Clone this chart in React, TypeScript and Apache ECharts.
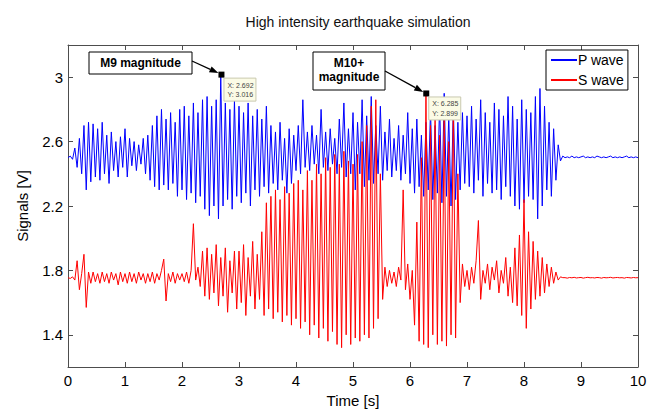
import React, { useEffect, useRef } from "react";
import * as echarts from "echarts";

// Sampling step of the recorded signals (seconds)
const SAMPLE_STEP = 0.04;

// Axis ranges / ticks
const timeRange = [0, 10];
const signalRange = [1.2, 3.2];
const signalTicks = [1.4, 1.8, 2.2, 2.6, 3.0];

// P wave samples (V), one array per second (t = k * SAMPLE_STEP)
const pWaveSec0 = [
  2.50, 2.51, 2.49, 2.56, 2.44,
  2.62, 2.40, 2.70, 2.30, 2.72,
  2.35, 2.71, 2.38, 2.68, 2.36,
  2.72, 2.40, 2.64, 2.34, 2.66,
  2.42, 2.60, 2.38, 2.63, 2.44,
];
const pWaveSec1 = [
  2.68, 2.38, 2.62, 2.45, 2.60,
  2.42, 2.58, 2.46, 2.62, 2.40,
  2.64, 2.36, 2.70, 2.32, 2.76,
  2.30, 2.80, 2.33, 2.74, 2.30,
  2.78, 2.34, 2.72, 2.26, 2.80,
];
const pWaveSec2 = [
  2.30, 2.82, 2.24, 2.76, 2.28,
  2.84, 2.22, 2.78, 2.26, 2.86,
  2.18, 2.88, 2.14, 2.82, 2.20,
  2.86, 2.12, 3.01, 2.20, 2.84,
  2.24, 2.80, 2.18, 2.86, 2.26,
];
const pWaveSec3 = [
  2.82, 2.22, 2.78, 2.28, 2.84,
  2.20, 2.76, 2.30, 2.80, 2.26,
  2.74, 2.32, 2.82, 2.28, 2.70,
  2.34, 2.66, 2.30, 2.72, 2.36,
  2.62, 2.28, 2.68, 2.34, 2.64,
];
const pWaveSec4 = [
  2.42, 2.70, 2.40, 2.86, 2.44,
  2.66, 2.42, 2.70, 2.46, 2.64,
  2.40, 2.80, 2.44, 2.66, 2.42,
  2.68, 2.46, 2.62, 2.40, 2.74,
  2.44, 2.84, 2.38, 2.68, 2.40,
];
const pWaveSec5 = [
  2.78, 2.30, 2.72, 2.40, 2.86,
  2.32, 2.76, 2.36, 2.88, 2.34,
  2.70, 2.40, 2.82, 2.36, 2.66,
  2.42, 2.74, 2.38, 2.62, 2.42,
  2.70, 2.36, 2.64, 2.40, 2.78,
];
const pWaveSec6 = [
  2.34, 2.68, 2.28, 2.74, 2.32,
  2.64, 2.26, 2.72, 2.30, 2.80,
  2.24, 2.70, 2.28, 2.84, 2.22,
  2.90, 2.26, 2.76, 2.20, 2.82,
  2.24, 2.72, 2.30, 2.78, 2.34,
];
const pWaveSec7 = [
  2.76, 2.32, 2.82, 2.28, 2.74,
  2.36, 2.86, 2.26, 2.78, 2.34,
  2.72, 2.28, 2.84, 2.30, 2.80,
  2.24, 2.76, 2.32, 2.88, 2.26,
  2.82, 2.20, 2.74, 2.18, 2.86,
];
const pWaveSec8 = [
  2.22, 2.80, 2.26, 2.78, 2.24,
  2.88, 2.12, 2.93, 2.20, 2.82,
  2.30, 2.72, 2.26, 2.68, 2.36,
  2.58, 2.48, 2.51,
];
const pWaveTail = [
  2.50, 2.505, 2.50, 2.51, 2.50,
  2.505, 2.50, 2.505, 2.51, 2.50,
  2.505, 2.50, 2.505, 2.50, 2.51,
  2.505, 2.50, 2.505, 2.50, 2.505,
  2.51, 2.50, 2.505, 2.50, 2.505,
  2.50, 2.505, 2.51, 2.50, 2.505,
  2.50, 2.505, 2.50,
];

// S wave samples (V)
const sWaveSec0 = [
  1.755, 1.75, 1.76, 1.74, 1.86,
  1.68, 1.78, 1.90, 1.57, 1.79,
  1.72, 1.79, 1.73, 1.78, 1.72,
  1.79, 1.73, 1.78, 1.72, 1.79,
  1.74, 1.78, 1.71, 1.79, 1.73,
];
const sWaveSec1 = [
  1.78, 1.72, 1.79, 1.73, 1.78,
  1.72, 1.79, 1.74, 1.78, 1.72,
  1.78, 1.73, 1.79, 1.72, 1.78,
  1.74, 1.80, 1.87, 1.61, 1.78,
  1.73, 1.79, 1.72, 1.78, 1.74,
];
const sWaveSec2 = [
  1.78, 1.73, 1.79, 1.72, 1.80,
  2.09, 1.74, 1.82, 1.70, 1.92,
  1.64, 1.94, 1.62, 1.90, 1.66,
  1.96, 1.58, 1.88, 1.64, 1.94,
  1.54, 1.86, 1.66, 1.92, 1.56,
];
const sWaveSec3 = [
  1.92, 1.60, 1.96, 1.52, 1.88,
  1.64, 1.98, 1.56, 1.90, 1.62,
  2.04, 1.52, 2.22, 1.56, 2.26,
  1.50, 2.30, 1.54, 2.24, 1.48,
  2.32, 1.52, 2.28, 1.46, 2.34,
];
const sWaveSec4 = [
  1.50, 2.36, 1.44, 2.30, 1.48,
  2.42, 1.40, 2.36, 1.46, 2.46,
  1.38, 2.40, 1.44, 2.50, 1.36,
  2.44, 1.42, 2.52, 1.34, 2.46,
  1.32, 2.54, 1.40, 2.48, 1.34,
];
const sWaveSec5 = [
  2.46, 1.38, 2.52, 1.36, 2.60,
  1.40, 2.70, 1.38, 2.82, 1.44,
  2.86, 1.50, 2.40, 1.62, 1.82,
  1.70, 1.80, 1.72, 1.79, 1.70,
  1.82, 1.74, 2.30, 1.68, 1.84,
];
const sWaveSec6 = [
  1.62, 1.80, 1.46, 2.10, 1.36,
  2.50, 1.34, 2.90, 1.32, 2.70,
  1.40, 2.76, 1.34, 2.64, 1.36,
  2.74, 1.33, 2.60, 1.40, 2.82,
  1.38, 2.40, 1.60, 1.84, 1.70,
];
const sWaveSec7 = [
  1.80, 1.68, 1.82, 1.72, 1.86,
  2.11, 1.62, 1.80, 1.72, 1.84,
  1.68, 1.82, 1.74, 1.86, 1.66,
  1.80, 1.72, 1.88, 1.64, 1.82,
  1.60, 1.94, 1.58, 2.02, 1.52,
];
const sWaveSec8 = [
  2.24, 1.44, 2.04, 1.56, 1.98,
  1.62, 1.92, 1.64, 1.88, 1.66,
  1.84, 1.70, 1.82, 1.72, 1.79,
  1.74, 1.76, 1.755,
];
const sWaveTail = [
  1.755, 1.752, 1.756, 1.754, 1.757,
  1.753, 1.755, 1.756, 1.752, 1.755,
  1.757, 1.754, 1.755, 1.753, 1.756,
  1.755, 1.752, 1.756, 1.754, 1.755,
  1.757, 1.753, 1.755, 1.756, 1.754,
  1.755, 1.752, 1.756, 1.755, 1.753,
  1.756, 1.754, 1.755,
];

// Annotated data tips
const m9Point = [2.692, 3.016];
const m10Point = [6.285, 2.899];
const m9Label = ["M9 magnitude"];
const m10Label = ["M10+", "magnitude"];

const pWave = [
  ...pWaveSec0, ...pWaveSec1, ...pWaveSec2, ...pWaveSec3, ...pWaveSec4,
  ...pWaveSec5, ...pWaveSec6, ...pWaveSec7, ...pWaveSec8, ...pWaveTail,
];
const sWave = [
  ...sWaveSec0, ...sWaveSec1, ...sWaveSec2, ...sWaveSec3, ...sWaveSec4,
  ...sWaveSec5, ...sWaveSec6, ...sWaveSec7, ...sWaveSec8, ...sWaveTail,
];

const toSeries = (vals: number[]) =>
  vals.map((v, i) => [Number((i * SAMPLE_STEP).toFixed(2)), v]);

const FONT = "'Liberation Sans', Arial, Helvetica, sans-serif";
const AXIS_COLOR = "#4d4d4d";
const TOP_Z = 100;

function arrow(x1: number, y1: number, x2: number, y2: number) {
  const dx = x2 - x1;
  const dy = y2 - y1;
  const len = Math.sqrt(dx * dx + dy * dy);
  const ux = dx / len;
  const uy = dy / len;
  const hl = 9;
  const hw = 3.2;
  const bx = x2 - ux * hl;
  const by = y2 - uy * hl;
  return [
    {
      type: "line",
      z: TOP_Z,
      shape: { x1, y1, x2: bx, y2: by },
      style: { stroke: "#000", lineWidth: 1.3 },
      silent: true,
    },
    {
      type: "polygon",
      z: TOP_Z,
      shape: {
        points: [
          [x2, y2],
          [bx - uy * hw, by + ux * hw],
          [bx + uy * hw, by - ux * hw],
        ],
      },
      style: { fill: "#000" },
      silent: true,
    },
  ];
}

function dataTip(px: number, py: number, pt: number[]) {
  return [
    {
      type: "rect",
      z: TOP_Z,
      shape: { x: px + 2.5, y: py + 3.5, width: 32, height: 23 },
      style: { fill: "#fbfbe6", stroke: "#c9c9b0", lineWidth: 1 },
      silent: true,
    },
    {
      type: "text",
      z: TOP_Z + 1,
      x: px + 6,
      y: py + 10.5,
      style: {
        text: "X: " + pt[0].toFixed(3),
        font: `7px ${FONT}`,
        fill: "#444",
        verticalAlign: "middle",
        textVerticalAlign: "middle",
      },
      silent: true,
    },
    {
      type: "text",
      z: TOP_Z + 1,
      x: px + 6,
      y: py + 20,
      style: {
        text: "Y: " + pt[1].toFixed(3),
        font: `7px ${FONT}`,
        fill: "#444",
        verticalAlign: "middle",
        textVerticalAlign: "middle",
      },
      silent: true,
    },
  ];
}

export default function App() {
  const ref = useRef<HTMLDivElement>(null);

  useEffect(() => {
    if (!ref.current) return;
    const chart = echarts.init(ref.current, null, { renderer: "svg" });

    const commonX = {
      type: "value",
      min: timeRange[0],
      max: timeRange[1],
      interval: 1,
      splitLine: { show: false },
      axisLine: { show: true, onZero: false, lineStyle: { color: AXIS_COLOR, width: 1 } },
      axisTick: { show: true, inside: true, length: 5, lineStyle: { color: AXIS_COLOR } },
    };
    const commonY = {
      type: "value",
      min: signalRange[0],
      max: signalRange[1],
      splitLine: { show: false },
      axisLine: { show: true, onZero: false, lineStyle: { color: AXIS_COLOR, width: 1 } },
      axisTick: {
        show: true,
        inside: true,
        length: 5,
        customValues: signalTicks,
        lineStyle: { color: AXIS_COLOR },
      },
    };

    chart.setOption({
      animation: false,
      backgroundColor: "#ffffff",
      title: {
        text: "High intensity earthquake simulation",
        left: 353,
        top: 10,
        textAlign: "center",
        textStyle: { fontSize: 14, fontWeight: "normal", color: "#111", fontFamily: FONT },
      },
      legend: {
        data: ["P wave", "S wave"],
        orient: "vertical",
        left: 546,
        top: 50,
        padding: [3, 4, 3, 4],
        itemWidth: 26,
        itemHeight: 14,
        itemGap: 6,
        borderColor: "#000",
        borderWidth: 1,
        backgroundColor: "#fff",
        itemStyle: { opacity: 0 },
        textStyle: { fontSize: 14, color: "#000", fontFamily: FONT, padding: [0, 0, 0, -4] },
      },
      grid: {
        left: 68,
        right: 14,
        top: 45,
        bottom: 42,
        containLabel: false,
        outerBoundsMode: "none",
      },
      xAxis: [
        {
          ...commonX,
          position: "bottom",
          name: "Time [s]",
          nameLocation: "middle",
          nameGap: 23,
          nameTextStyle: { fontSize: 15, color: "#000", fontFamily: FONT },
          axisLabel: { fontSize: 15, color: "#000", margin: 6, fontFamily: FONT },
        },
        {
          ...commonX,
          position: "top",
          axisLabel: { show: false },
        },
      ],
      yAxis: [
        {
          ...commonY,
          position: "left",
          name: "Signals [V]",
          nameLocation: "middle",
          nameRotate: 90,
          nameGap: 38,
          nameTextStyle: { fontSize: 15, color: "#000", fontFamily: FONT },
          axisLabel: {
            fontSize: 15,
            color: "#000",
            margin: 5,
            fontFamily: FONT,
            customValues: signalTicks,
            formatter: (v: number) => (Math.abs(v - 3) < 1e-9 ? "3" : v.toFixed(1)),
          },
        },
        {
          ...commonY,
          position: "right",
          axisLabel: { show: false },
        },
      ],
      series: [
        {
          name: "P wave",
          type: "line",
          xAxisIndex: 0,
          yAxisIndex: 0,
          data: toSeries(pWave),
          showSymbol: false,
          symbol: "none",
          lineStyle: { color: "#0000ff", width: 1 },
          itemStyle: { color: "#0000ff" },
          markPoint: {
            symbol: "rect",
            symbolSize: 6,
            silent: true,
            z: 10,
            label: { show: false },
            itemStyle: { color: "#000" },
            data: [{ coord: m9Point }],
          },
        },
        {
          name: "S wave",
          type: "line",
          xAxisIndex: 0,
          yAxisIndex: 0,
          data: toSeries(sWave),
          showSymbol: false,
          symbol: "none",
          lineStyle: { color: "#ff0000", width: 1 },
          itemStyle: { color: "#ff0000" },
          markPoint: {
            symbol: "rect",
            symbolSize: 6,
            silent: true,
            z: 10,
            label: { show: false },
            itemStyle: { color: "#000" },
            data: [{ coord: m10Point }],
          },
        },
      ],
    });

    const p9 = chart.convertToPixel({ seriesIndex: 0 }, m9Point) as number[];
    const p10 = chart.convertToPixel({ seriesIndex: 1 }, m10Point) as number[];

    const box9 = { x: 89, y: 52, w: 103, h: 22 };
    const box10 = { x: 313, y: 52, w: 72, h: 38 };

    const labelStyle = {
      font: `bold 12px ${FONT}`,
      fill: "#000",
      align: "center",
      textAlign: "center",
      verticalAlign: "middle",
      textVerticalAlign: "middle",
    };

    const graphics: any[] = [
      {
        type: "rect",
        z: TOP_Z,
        shape: { x: box9.x, y: box9.y, width: box9.w, height: box9.h },
        style: { fill: "#fff", stroke: "#000", lineWidth: 1 },
        silent: true,
      },
      {
        type: "text",
        z: TOP_Z + 1,
        x: box9.x + box9.w / 2,
        y: box9.y + box9.h / 2,
        style: { ...labelStyle, text: m9Label[0] },
        silent: true,
      },
      {
        type: "rect",
        z: TOP_Z,
        shape: { x: box10.x, y: box10.y, width: box10.w, height: box10.h },
        style: { fill: "#fff", stroke: "#000", lineWidth: 1 },
        silent: true,
      },
      {
        type: "text",
        z: TOP_Z + 1,
        x: box10.x + box10.w / 2,
        y: box10.y + 11,
        style: { ...labelStyle, text: m10Label[0] },
        silent: true,
      },
      {
        type: "text",
        z: TOP_Z + 1,
        x: box10.x + box10.w / 2,
        y: box10.y + 25,
        style: { ...labelStyle, text: m10Label[1] },
        silent: true,
      },
      ...arrow(box9.x + box9.w, box9.y + 9, p9[0] - 3, p9[1] - 1.5),
      ...arrow(box10.x + box10.w, box10.y + 19, p10[0] - 3, p10[1] - 1.5),
      ...dataTip(p9[0], p9[1], m9Point),
      ...dataTip(p10[0], p10[1], m10Point),
    ];

    chart.setOption({ graphic: graphics });

    return () => {
      chart.dispose();
    };
  }, []);

  return (
    <div
      ref={ref}
      style={{ position: "fixed", left: 0, top: 0, width: 652, height: 409, background: "#fff" }}
    />
  );
}
